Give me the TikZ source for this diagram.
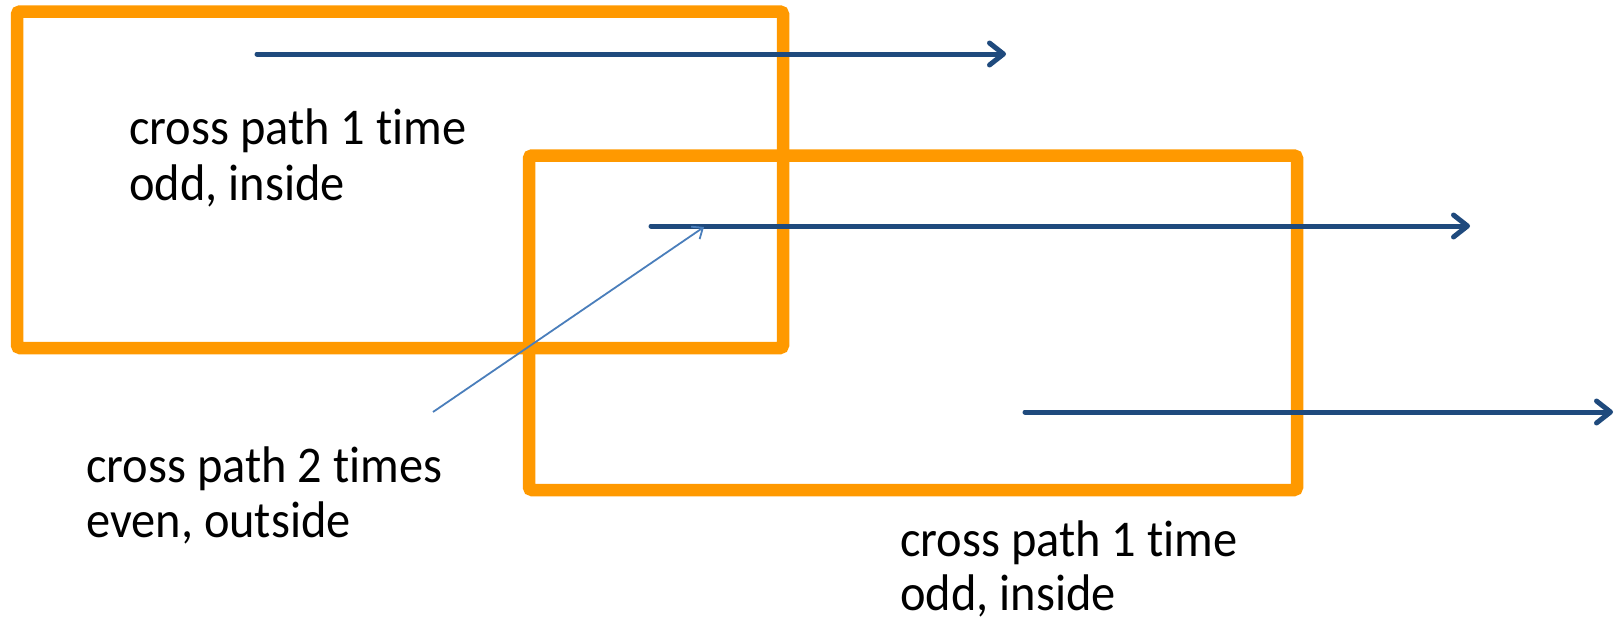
\documentclass[tikz,border=0pt]{standalone}
\usepackage{fontspec}
\setmainfont{Carlito}[FakeStretch=0.94,Ligatures=NoCommon]
\usetikzlibrary{arrows.meta}
\definecolor{boxorange}{HTML}{FF9900}
\definecolor{raydark}{HTML}{1F4A7D}
\definecolor{raylight}{HTML}{4A7EBB}
\tikzset{
  region/.style={draw=boxorange, line width=12.5pt, rounded corners=3pt},
  ray/.style={draw=raydark, line width=5pt, line cap=round,
    -{Straight Barb[length=14pt,width=22pt,round]}},
  pointer/.style={draw=raylight, line width=1.8pt,
    -{Straight Barb[length=9pt,width=15pt]}},
  lbl/.style={anchor=base west, inner sep=0pt, font=\fontsize{51.5}{55}\selectfont},
}
\begin{document}
\begin{tikzpicture}[x=1pt,y=-1pt]
\useasboundingbox (0,0) rectangle (1617,621);

% the two overlapping regions
\draw[region] (17,11.5) rectangle (783,348);
\draw[region] (529,155.5) rectangle (1297,490);

% test rays and their end points
\coordinate (r1s) at (257,54);
\coordinate (r1e) at (1006,54);
\coordinate (r2s) at (651,226);
\coordinate (r2e) at (1470,226);
\coordinate (r3s) at (1025,412);
\coordinate (r3e) at (1613,412);
\draw[ray] (r1s) -- (r1e);
\draw[ray] (r2s) -- (r2e);
\draw[ray] (r3s) -- (r3e);

% labels
\node[lbl] (t1a) at (129,144) {cross path 1 time};
\node[lbl] (t1b) at (129,200) {odd, inside};
\node[lbl] (t2a) at (86,482) {cross path 2 times};
\node[lbl] (t2b) at (86,537) {even, outside};
\node[lbl] (t3a) at (900,556) {cross path 1 time};
\node[lbl] (t3b) at (900,610) {odd, inside};

% pointer to the start of the middle ray
\coordinate (ps) at (433,412);
\coordinate (pe) at (704,227);
\draw[pointer] (ps) -- (pe);
\end{tikzpicture}
\end{document}
